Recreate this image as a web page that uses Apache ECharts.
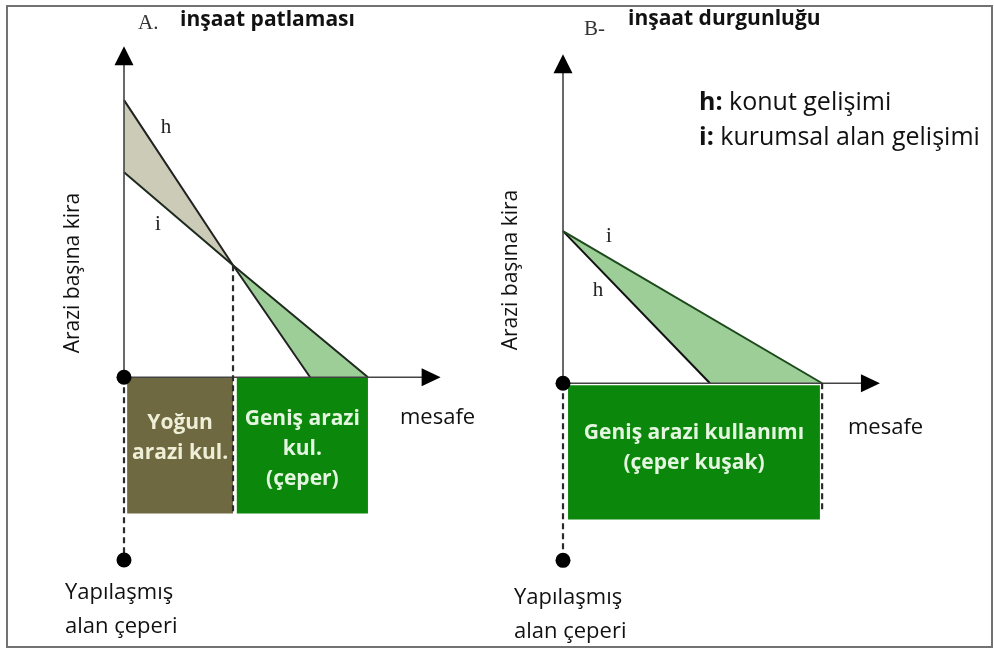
<!DOCTYPE html>
<html lang="tr">
<head>
<meta charset="UTF-8">
<title>İnşaat patlaması / durgunluğu</title>
<script src="https://cdn.jsdelivr.net/npm/echarts@6/dist/echarts.min.js"></script>
<style>
  html, body { margin: 0; padding: 0; background: #fff; }
  #main { width: 994px; height: 648px; }
</style>
</head>
<body>
<div id="main"></div>
<script>
// birimler: her panelde x 0..10 (mesafe), y -5.5..10 (kira)
var hLineA = [[0, 8.34], [3.45, 3.37], [5.89, 0]];   // konut gelişimi
var iLineA = [[0, 6.17], [3.45, 3.37], [7.72, 0]];   // kurumsal alan
var hLineB = [[0, 4.58], [4.65, 0]];
var iLineB = [[0, 4.58], [8.2, 0]];

// bölgeler: [x0, x1, yÜst, yAlt]
var zonesA = [[0.1, 3.45, 0, -4.1], [3.57, 7.72, 0, -4.1]];
var zoneLabelsA = ['Yoğun\narazi kul.', 'Geniş arazi\nkul.\n(çeper)'];
var zonesB = [[0.16, 8.13, -0.06, -4.1]];
var zoneLabelsB = ['Geniş arazi kullanımı\n(çeper kuşak)'];

var yTopA = 9.68, xEndA = 9.72, edgeA = -5.5;
var yTopB = 9.62, xEndB = 9.73, edgeB = -5.33;

var myChart = echarts.init(document.getElementById('main'));
var sans = '"Open Sans", "Noto Sans", sans-serif';
var serif = '"Liberation Serif", "DejaVu Serif", serif';

function axisLines(g, yTop, xEnd) {
    return [
        { type: 'line', xAxisIndex: g, yAxisIndex: g, symbol: 'none', clip: false, z: 5,
          lineStyle: { color: '#444', width: 1.6 }, itemStyle: { color: '#000' },
          data: [{ value: [0, 0] }, { value: [0, yTop], symbol: 'triangle', symbolSize: [19, 19] }] },
        { type: 'line', xAxisIndex: g, yAxisIndex: g, symbol: 'none', clip: false, z: 5,
          lineStyle: { color: '#444', width: 1.6 }, itemStyle: { color: '#000' },
          data: [{ value: [0, 0] }, { value: [xEnd, 0], symbol: 'triangle', symbolSize: [18, 19], symbolRotate: -90 }] }
    ];
}

function rentLine(g, pts, color) {
    return { type: 'line', xAxisIndex: g, yAxisIndex: g, data: pts, symbol: 'none', clip: false, z: 4,
             lineStyle: { color: color, width: 2 } };
}

function dashed(g, pts, color) {
    return { type: 'line', xAxisIndex: g, yAxisIndex: g, data: pts, symbol: 'none', clip: false, z: 6,
             lineStyle: { color: color || '#2a2a2a', width: 2.2, type: [6, 4] } };
}

function fill(g, pts, color) {
    return { type: 'custom', xAxisIndex: g, yAxisIndex: g, data: [[0, 0]], clip: false, z: 2,
        renderItem: function (params, api) {
            return { type: 'polygon', shape: { points: pts.map(function (p) { return api.coord(p); }) },
                     style: { fill: color } };
        } };
}

function zones(g, list, labels, fills, textColors, offsets) {
    return { type: 'custom', xAxisIndex: g, yAxisIndex: g, data: list, clip: false, z: 3,
        renderItem: function (params, api) {
            var p0 = api.coord([api.value(0), api.value(2)]);
            var p1 = api.coord([api.value(1), api.value(3)]);
            var i = params.dataIndex;
            return { type: 'group', children: [
                { type: 'rect', shape: { x: p0[0], y: p0[1], width: p1[0] - p0[0], height: p1[1] - p0[1] },
                  style: { fill: fills[i] } },
                { type: 'text', x: (p0[0] + p1[0]) / 2, y: p0[1] + offsets[i],
                  style: { text: labels[i], fill: textColors[i], font: 'bold 21px ' + sans,
                           align: 'center', verticalAlign: 'middle', lineHeight: 30 } }
            ] };
        } };
}

function dots(g, edge) {
    return { type: 'scatter', xAxisIndex: g, yAxisIndex: g, data: [[0, 0], [0, edge]], clip: false, z: 7,
             symbol: 'circle', symbolSize: 15, itemStyle: { color: '#000', opacity: 1 } };
}

var hiddenX = { type: 'value', min: 0, max: 10, show: false };
var hiddenY = { type: 'value', min: -5.5, max: 10, show: false };

var option = {
    animation: false,
    backgroundColor: '#fff',
    grid: [
        { left: 124, top: 45, width: 316, height: 515 },
        { left: 563, top: 51, width: 316, height: 515 }
    ],
    xAxis: [Object.assign({ gridIndex: 0 }, hiddenX), Object.assign({ gridIndex: 1 }, hiddenX)],
    yAxis: [Object.assign({ gridIndex: 0 }, hiddenY), Object.assign({ gridIndex: 1 }, hiddenY)],
    series: [].concat(
        axisLines(0, yTopA, xEndA),
        axisLines(1, yTopB, xEndB),
        [
            fill(0, [hLineA[0], hLineA[1], iLineA[0]], '#cbcbb7'),
            fill(0, [hLineA[1], hLineA[2], iLineA[2]], '#9dce98'),
            fill(1, [hLineB[0], hLineB[1], iLineB[1]], '#9dce98'),
            rentLine(0, hLineA, '#222'),
            rentLine(0, iLineA, '#1d2a1d'),
            rentLine(1, hLineB, '#111'),
            rentLine(1, iLineB, '#1c4a1c'),
            zones(0, zonesA, zoneLabelsA, ['#6e6940', '#0b870b'], ['#efeed6', '#e4f5e0'], [61, 72]),
            zones(1, zonesB, zoneLabelsB, ['#0b870b'], ['#e4f5e0'], [63]),
            dashed(0, [[0, 0], [0, edgeA]]),
            dashed(0, [[3.45, 3.37], [3.45, -4.1]]),
            dashed(1, [[0, 0], [0, edgeB]]),
            dashed(1, [[8.2, 0], [8.2, -3.8]]),
            dots(0, edgeA),
            dots(1, edgeB)
        ]
    ),
    graphic: [
        { type: 'rect', shape: { x: 7, y: 6, width: 985, height: 641 }, silent: true,
          style: { fill: 'none', stroke: '#727272', lineWidth: 2 } },
        // başlıklar
        { type: 'text', x: 138, y: 23, style: { text: 'A.', font: '21px ' + serif, fill: '#333', verticalAlign: 'middle' } },
        { type: 'text', x: 180, y: 20, style: { text: 'inşaat patlaması', font: 'bold 21px ' + sans, fill: '#111', verticalAlign: 'middle' } },
        { type: 'text', x: 584, y: 29, style: { text: 'B-', font: '21px ' + serif, fill: '#333', verticalAlign: 'middle' } },
        { type: 'text', x: 628, y: 19, style: { text: 'inşaat durgunluğu', font: 'bold 21px ' + sans, fill: '#111', verticalAlign: 'middle' } },
        // açıklama
        { type: 'text', x: 699, y: 103, style: { text: '{b|h:} konut gelişimi', font: '25px ' + sans, fill: '#111', verticalAlign: 'middle',
          rich: { b: { fontWeight: 'bold', fontSize: 25, fontFamily: sans, fill: '#111' } } } },
        { type: 'text', x: 699, y: 138, style: { text: '{b|i:} kurumsal alan gelişimi', font: '25px ' + sans, fill: '#111', verticalAlign: 'middle',
          rich: { b: { fontWeight: 'bold', fontSize: 25, fontFamily: sans, fill: '#111' } } } },
        // eksen adları
        { type: 'text', x: 73, y: 273, rotation: Math.PI / 2, style: { text: 'Arazi başına kira', font: '21px ' + sans, fill: '#111', align: 'center', verticalAlign: 'middle' } },
        { type: 'text', x: 511, y: 270, rotation: Math.PI / 2, style: { text: 'Arazi başına kira', font: '21px ' + sans, fill: '#111', align: 'center', verticalAlign: 'middle' } },
        { type: 'text', x: 400, y: 418, style: { text: 'mesafe', font: '22px ' + sans, fill: '#111', verticalAlign: 'middle' } },
        { type: 'text', x: 848, y: 428, style: { text: 'mesafe', font: '22px ' + sans, fill: '#111', verticalAlign: 'middle' } },
        { type: 'text', x: 65, y: 610, style: { text: 'Yapılaşmış\nalan çeperi', font: '22px ' + sans, fill: '#111', verticalAlign: 'middle', lineHeight: 34 } },
        { type: 'text', x: 514, y: 615, style: { text: 'Yapılaşmış\nalan çeperi', font: '22px ' + sans, fill: '#111', verticalAlign: 'middle', lineHeight: 34 } },
        // eğri adları
        { type: 'text', x: 166, y: 127, style: { text: 'h', font: '21px ' + serif, fill: '#222', align: 'center', verticalAlign: 'middle' } },
        { type: 'text', x: 158, y: 224, style: { text: 'i', font: '21px ' + serif, fill: '#222', align: 'center', verticalAlign: 'middle' } },
        { type: 'text', x: 609, y: 236, style: { text: 'i', font: '21px ' + serif, fill: '#222', align: 'center', verticalAlign: 'middle' } },
        { type: 'text', x: 598, y: 290, style: { text: 'h', font: '21px ' + serif, fill: '#222', align: 'center', verticalAlign: 'middle' } }
    ]
};

myChart.setOption(option);
</script>
</body>
</html>
